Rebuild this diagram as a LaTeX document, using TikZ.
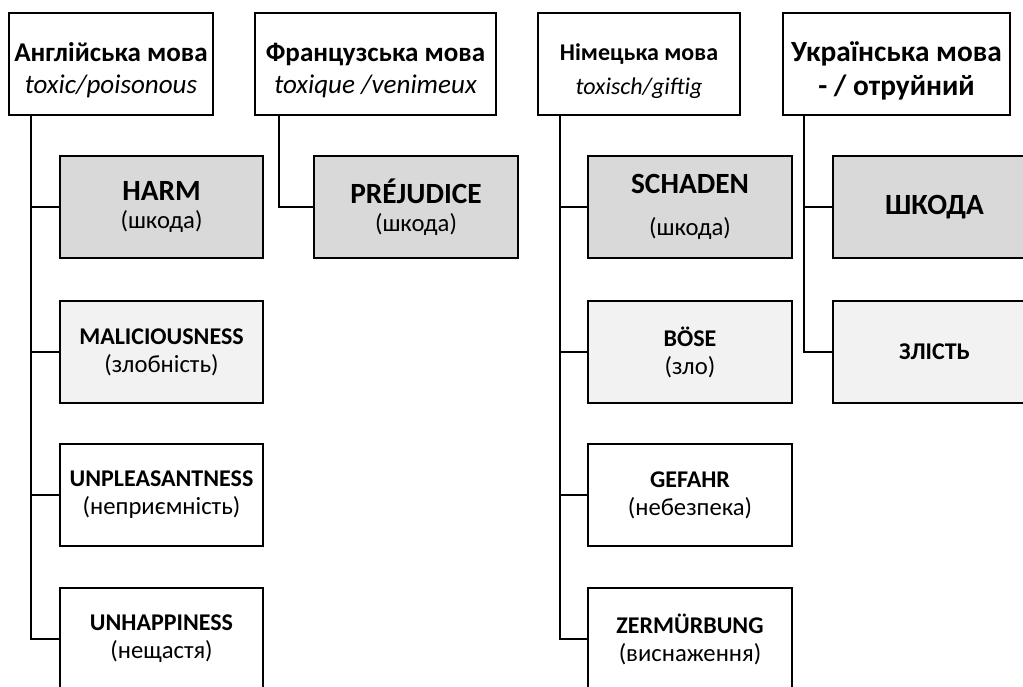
\documentclass[tikz,border=0pt]{standalone}
\usepackage{fontspec}
\setmainfont{Carlito}
\newcommand\hdrfont{\fontsize{20.3}{24.5}\selectfont}
\newcommand\hdrsmall{\fontsize{18}{25}\selectfont}
\newcommand\hdrlarge{\fontsize{22}{26}\selectfont}
\newcommand\bigword{\fontsize{22}{22}\selectfont\bfseries}
\newcommand\midword{\fontsize{18}{20}\selectfont\bfseries}
\newcommand\parword{\fontsize{18.5}{21}\selectfont}
\newcommand\lowstrut{\rule{0pt}{1.15em}}
\definecolor{darkfill}{HTML}{D9D9D9}
\definecolor{lightfill}{HTML}{F2F2F2}
\begin{document}
\begin{tikzpicture}[x=0.75pt,y=-0.75pt,
  frame/.style={draw, line width=2.2pt, inner sep=0pt, outer sep=0pt, align=center, minimum height=76.5pt},
  hdr/.style={frame, font=\hdrfont},
  child/.style={frame, minimum width=152.25pt, font=\parword},
  dark/.style={child, fill=darkfill},
  light/.style={child, fill=lightfill},
  plain/.style={child, fill=white},
  link/.style={line width=2.2pt}]
\useasboundingbox (0,0) rectangle (1023,686);
% headers
\node[hdr, minimum width=153pt] (en) at (111,64) {\lowstrut\bfseries Англійська мова\\\itshape toxic/poisonous};
\node[hdr, minimum width=180.75pt] (fr) at (375.5,64) {\lowstrut\bfseries Французська мова\\\itshape toxique /venimeux};
\node[hdr, minimum width=151.5pt, font=\hdrsmall] (de) at (639,64) {\rule{0pt}{1.3em}\bfseries Німецька мова\\\itshape toxisch/giftig};
\node[hdr, minimum width=170.25pt, font=\hdrlarge] (uk) at (896.5,64) {\lowstrut\bfseries Українська мова\\\bfseries - / отруйний};
% English
\node[dark] (harm) at (161.5,207) {{\bigword HARM}\\(шкода)};
\node[light] (mal) at (161.5,352) {{\midword MALICIOUSNESS}\\(злобність)};
\node[plain] (unpl) at (161.5,495) {{\midword UNPLEASANTNESS}\\(неприємність)};
\node[plain] (unh) at (161.5,639) {{\midword UNHAPPINESS}\\(нещастя)};
% French
\node[dark, minimum width=153pt] (prej) at (416,207) {{\bigword PRÉJUDICE}\\(шкода)};
% German
\node[dark, minimum width=153pt] (sch) at (690,207) {{\bigword SCHADEN}\\[11pt](шкода)};
\node[light, minimum width=153pt] (bose) at (690,352) {{\midword BÖSE}\\(зло)};
\node[plain, minimum width=153pt] (gef) at (690,495) {{\midword GEFAHR}\\(небезпека)};
\node[plain, minimum width=153pt] (zer) at (690,639) {{\midword ZERMÜRBUNG}\\(виснаження)};
% Ukrainian
\node[dark] (shk) at (934.5,207) {\bigword ШКОДА};
\node[light] (zl) at (934.5,352) {\midword ЗЛІСТЬ};
% connectors
\draw[link] ([xshift=16.5pt]en.south west) |- (harm.west);
\draw[link] ([xshift=16.5pt]en.south west) |- (mal.west);
\draw[link] ([xshift=16.5pt]en.south west) |- (unpl.west);
\draw[link] ([xshift=16.5pt]en.south west) |- (unh.west);
\draw[link] ([xshift=18pt]fr.south west) |- (prej.west);
\draw[link] ([xshift=16.5pt]de.south west) |- (sch.west);
\draw[link] ([xshift=16.5pt]de.south west) |- (bose.west);
\draw[link] ([xshift=16.5pt]de.south west) |- (gef.west);
\draw[link] ([xshift=16.5pt]de.south west) |- (zer.west);
\draw[link] ([xshift=15.75pt]uk.south west) |- (shk.west);
\draw[link] ([xshift=15.75pt]uk.south west) |- (zl.west);
\end{tikzpicture}
\end{document}
